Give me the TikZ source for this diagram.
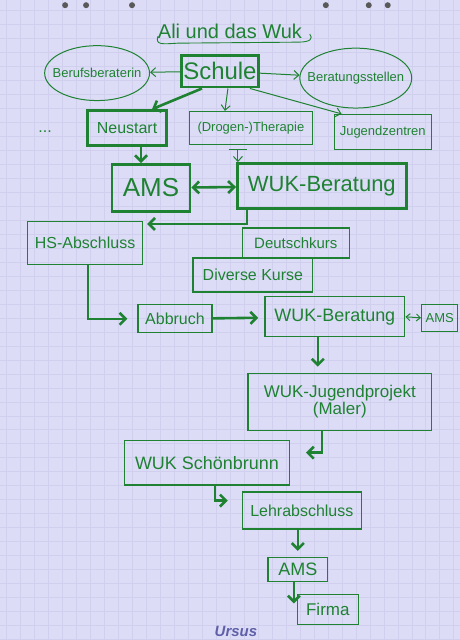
\documentclass[tikz,border=0pt]{standalone}
\usepackage{fontspec}
\setmainfont{Liberation Sans}
\usetikzlibrary{arrows.meta,shapes.geometric}

\definecolor{ink}{RGB}{30,130,50}
\definecolor{paper}{RGB}{220,220,246}
\definecolor{raster}{RGB}{208,208,238}
\definecolor{logo}{RGB}{95,95,170}

\newcommand{\fs}[1]{\fontsize{#1}{#1}\selectfont}

\tikzset{
  box/.style={draw=ink, line width=1.3pt, text=ink, inner sep=2pt},
  heavybox/.style={box, line width=2.8pt},
  bubble/.style={ellipse, draw=ink, line width=1pt, text=ink, inner xsep=-10pt, inner ysep=0pt},
  thin flow/.style={draw=ink, line width=1pt, -{Straight Barb[length=5pt,width=9pt]}},
  thick flow/.style={draw=ink, line width=2.6pt, -{Straight Barb[length=6pt,width=12pt]}},
  both flow/.style={thick flow, {Straight Barb[length=6pt,width=12pt]}-{Straight Barb[length=6pt,width=12pt]}},
  both thin/.style={thin flow, {Straight Barb[length=4pt,width=7pt]}-{Straight Barb[length=4pt,width=7pt]}},
}

\begin{document}
\begin{tikzpicture}[x=1pt, y=-1pt]

        % Papier mit Raster
        \fill[paper] (0,0) rectangle (460,640);
        \foreach \gx in {6,20,...,460} \draw[raster, line width=0.4pt] (\gx,0) -- (\gx,640);
        \foreach \gy in {10,24,...,640} \draw[raster, line width=0.4pt] (0,\gy) -- (460,\gy);
        \foreach \hx in {65,86,132,326,369,388} \fill[black!65] (\hx,5) circle (3);

        % Titel
        \node[text=ink, font=\fs{20}] (title) at (230,31) {Ali und das Wuk};
        \draw[ink, line width=0.9pt] (158,36) .. controls (155,45) and (162,44) .. (178,43) -- (298,42) .. controls (312,42) and (313,38) .. (310,34);

        % Oberste Ebene
        \node[heavybox, minimum width=75, minimum height=32, font=\fs{24}] (schule) at (220,71) {Schule};
        \node[bubble, minimum width=105, minimum height=55, font=\fs{13}] (berater) at (97,73) {Berufsberaterin};
        \node[bubble, minimum width=112, minimum height=60, font=\fs{13}] (stellen) at (356,78) {Beratungsstellen};
        \draw[thin flow] (schule) -- (berater);
        \draw[thin flow] (schule) -- (stellen);

        % Zweite Ebene
        \node[text=ink, font=\fs{16}] (mehr) at (45,132) {...};
        \node[heavybox, minimum width=79, minimum height=35, font=\fs{16}] (neustart) at (127,128) {Neustart};
        \node[box, minimum width=123, minimum height=33, font=\fs{13}] (therapie) at (251,128) {(Drogen-)Therapie};
        \node[box, minimum width=97, minimum height=35, font=\fs{13}] (jugend) at (383,132) {Jugendzentren};
        \draw[thick flow] ([xshift=-18]schule.south) -- ([xshift=25]neustart.north);
        \draw[thin flow] ([xshift=8]schule.south) -- ([xshift=-26]therapie.north);
        \draw[thin flow] ([xshift=-10]schule.south east) -- ([xshift=8]jugend.north west);

        % AMS und WUK-Beratung
        \node[heavybox, minimum width=78, minimum height=47, font=\fs{26}] (ams) at (151,188) {AMS};
        \node[heavybox, minimum width=169, minimum height=45, font=\fs{22}] (wuk) at (322,186) {WUK-Beratung};
        \draw[thick flow] ([xshift=14]neustart.south) -- ([xshift=-10]ams.north);
        \draw[thin flow] ([xshift=-13,yshift=-4]therapie.south) -- ([xshift=-84]wuk.north);
        \draw[ink, line width=1pt] ([xshift=-22,yshift=-4]therapie.south) -- ([xshift=-4,yshift=-4]therapie.south);
        \draw[both flow] (ams) -- (wuk);

        % Kurse
        \node[box, minimum width=115, minimum height=43, font=\fs{16}] (hs) at (85,243) {HS-Abschluss};
        \node[box, minimum width=107, minimum height=30, font=\fs{15}] (deutsch) at (296,243) {Deutschkurs};
        \node[box, minimum width=120, minimum height=34, font=\fs{16}] (diverse) at (253,275) {Diverse Kurse};
        \draw[thick flow, shorten >=4pt] ([xshift=-75]wuk.south) |- ([yshift=19]hs.east);

        % Abbruch
        \node[box, minimum width=74, minimum height=28, font=\fs{16}] (abbruch) at (175,319) {Abbruch};
        \node[box, minimum width=140, minimum height=40, font=\fs{18}] (wuk2) at (335,317) {WUK-Beratung};
        \node[box, minimum width=36, minimum height=27, font=\fs{13}] (ams2) at (440,318) {AMS};
        \draw[thick flow, shorten >=10pt] ([xshift=3]hs.south) |- (abbruch.west);
        \draw[thick flow, shorten >=6pt] (abbruch) -- (wuk2);
        \draw[both thin] (wuk2.east) -- (ams2.west);

        % Jugendprojekt bis Firma
        \node[box, minimum width=184, minimum height=57, font=\fs{17}, align=center] (projekt) at (340,402) {WUK-Jugendprojekt\\(Maler)};
        \node[box, minimum width=165, minimum height=45, font=\fs{18}] (schoen) at (207,463) {WUK Schönbrunn};
        \node[box, minimum width=119, minimum height=37, font=\fs{16}] (lehr) at (302,511) {Lehrabschluss};
        \node[box, minimum width=60, minimum height=24, font=\fs{18}] (ams3) at (298,570) {AMS};
        \node[box, minimum width=61, minimum height=30, font=\fs{17}] (firma) at (328,610) {Firma};
        \draw[thick flow, shorten >=6pt] ([xshift=-17]wuk2.south) -- ([xshift=-22]projekt.north);
        \draw[thick flow, shorten >=16pt] ([xshift=-18]projekt.south) |- ([yshift=10]schoen.east);
        \draw[thick flow, shorten >=14pt] ([xshift=8]schoen.south) |- ([yshift=10]lehr.west);
        \draw[thick flow, shorten >=6pt] ([xshift=-4]lehr.south) -- (ams3);
        \draw[thick flow] ([xshift=-4]ams3.south) -- ([xshift=-4,yshift=6]ams3.south |- firma.west);

        % Logo
        \node[text=logo, font=\bfseries\itshape\fs{15}] (ursus) at (236,632) {Ursus};

\end{tikzpicture}
\end{document}
